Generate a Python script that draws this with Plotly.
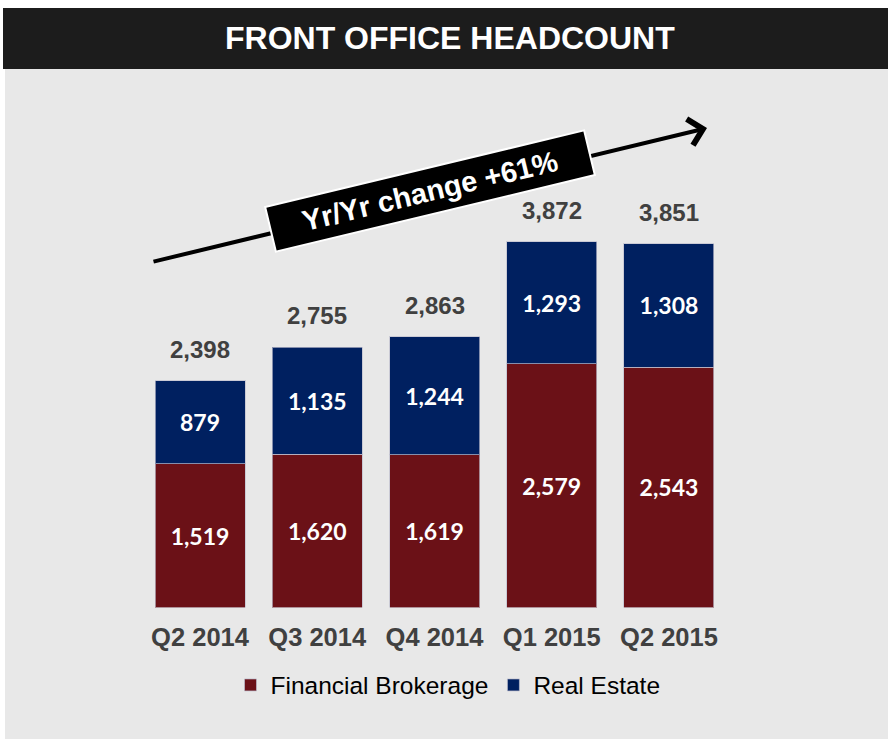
import plotly.graph_objects as go

categories = ["Q2 2014", "Q3 2014", "Q4 2014", "Q1 2015", "Q2 2015"]
financial_brokerage = [1519, 1620, 1619, 2579, 2543]
real_estate = [879, 1135, 1244, 1293, 1308]
totals = [2398, 2755, 2863, 3872, 3851]
title_text = "FRONT OFFICE HEADCOUNT"
change_text = "Yr/Yr change +61%"

RED = "#6b1117"
BLUE = "#002060"
GRAY_TXT = "#404040"
W, H = 888, 741

def px(x):
    return x / W

def py(y):
    return (H - y) / H

inner_font = dict(family="Lato", size=23, color="white", weight="bold")

fig = go.Figure()
fig.add_trace(go.Bar(
    x=categories, y=financial_brokerage, name="Financial Brokerage",
    marker=dict(color=RED, line=dict(color="rgba(190,190,205,0.7)", width=1)),
    text=[f"{v:,}" for v in financial_brokerage],
    textposition="inside", insidetextanchor="middle", textangle=0,
    textfont=inner_font, hoverinfo="skip",
))
fig.add_trace(go.Bar(
    x=categories, y=real_estate, name="Real Estate",
    marker=dict(color=BLUE, line=dict(color="rgba(190,190,205,0.7)", width=1)),
    text=[f"{v:,}" for v in real_estate],
    textposition="inside", insidetextanchor="middle", textangle=0,
    textfont=inner_font, hoverinfo="skip",
))

annotations = []
for c, t in zip(categories, totals):
    annotations.append(dict(
        x=c, y=t, xref="x", yref="y", text=f"{t:,}", showarrow=False,
        yanchor="bottom", yshift=16,
        font=dict(family="Liberation Sans", size=24, color=GRAY_TXT, weight="bold"),
    ))

# title
annotations.append(dict(
    x=px(450), y=py(38.5), xref="paper", yref="paper", text=title_text,
    showarrow=False, xanchor="center", yanchor="middle",
    font=dict(family="Liberation Sans", size=32, color="white", weight="bold"),
))
# trend arrow
annotations.append(dict(
    x=px(707), y=py(128), xref="paper", yref="paper", text="",
    showarrow=True, ax=152 - 707, ay=262 - 128, axref="pixel", ayref="pixel",
    arrowhead=4, arrowwidth=4, arrowsize=1.3, arrowcolor="black", standoff=0,
))
# change label box
annotations.append(dict(
    x=px(430), y=py(191), xref="paper", yref="paper", text=change_text,
    showarrow=False, xanchor="center", yanchor="middle", textangle=-13.5,
    width=326, height=44, bgcolor="black", bordercolor="white", borderwidth=2,
    borderpad=0,
    font=dict(family="Liberation Sans", size=29, color="white", weight="bold"),
))

shapes = [
    dict(type="rect", xref="paper", yref="paper", x0=px(5), x1=1, y0=py(739), y1=py(69),
         fillcolor="#e8e8e8", line=dict(width=0), layer="below"),
    dict(type="rect", xref="paper", yref="paper", x0=px(3), x1=1, y0=py(69), y1=py(8),
         fillcolor="#1c1c1c", line=dict(width=0), layer="below"),
]

fig.update_layout(
    width=W, height=H, margin=dict(l=0, r=0, t=0, b=0),
    paper_bgcolor="white", plot_bgcolor="rgba(0,0,0,0)",
    barmode="stack", bargap=0.2324,
    shapes=shapes, annotations=annotations,
    xaxis=dict(domain=[px(141.4), px(727.6)], showgrid=False, showline=False,
               zeroline=False, ticks="", ticklabelstandoff=12, fixedrange=True,
               tickfont=dict(family="Liberation Sans", size=25.5, color=GRAY_TXT, weight="bold")),
    yaxis=dict(domain=[py(607.5), py(135)], range=[0, 5000], visible=False, fixedrange=True),
    legend=dict(orientation="h", x=px(448), y=py(685), xanchor="center", yanchor="middle",
                bgcolor="rgba(0,0,0,0)", traceorder="normal",
                font=dict(family="Liberation Sans", size=24.5, color="black")),
    showlegend=True,
)

fig.write_html("out.html", config={"displayModeBar": False},
               post_script="document.body.style.margin='0';")
